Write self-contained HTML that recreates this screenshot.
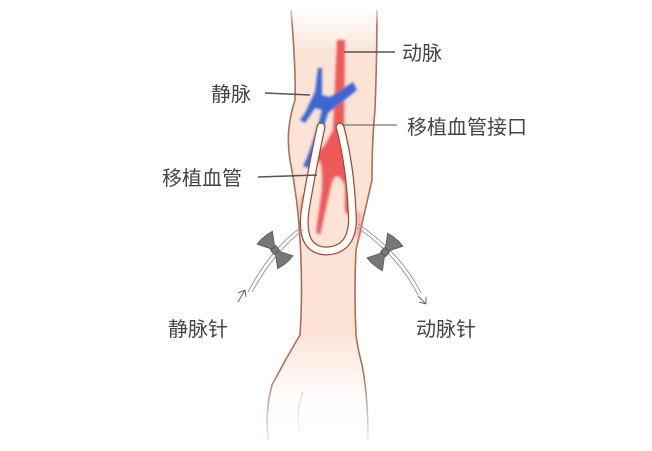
<!DOCTYPE html>
<html><head><meta charset="utf-8"><style>
html,body{margin:0;padding:0;background:#fff;}
svg{display:block;}
text{font-family:"Liberation Sans","Noto Sans CJK SC",sans-serif;font-size:20px;fill:#444;}
</style></head><body>
<svg width="652" height="451" viewBox="0 0 652 451" xmlns="http://www.w3.org/2000/svg">
<defs>
<linearGradient id="skin" x1="0" y1="0" x2="0" y2="1">
<stop offset="0" stop-color="#fdf0e8" stop-opacity="0.3"/>
<stop offset="0.1" stop-color="#fbe3d6"/>
<stop offset="0.75" stop-color="#fce3d5"/>
<stop offset="1" stop-color="#fff" stop-opacity="0"/>
</linearGradient>
<linearGradient id="fade" x1="0" y1="0" x2="0" y2="1">
<stop offset="0" stop-color="#fff" stop-opacity="1"/>
<stop offset="0.06" stop-color="#fff" stop-opacity="0"/>
<stop offset="0.82" stop-color="#fff" stop-opacity="0"/>
<stop offset="1" stop-color="#fff" stop-opacity="1"/>
</linearGradient>
<filter id="blur"><feGaussianBlur stdDeviation="1.2"/></filter>
</defs>
<!-- arm -->
<path d="M291,10 Q296,70 295,100 Q285,130 290,160 Q298,200 300,240 Q303,290 300,335 Q285,360 272,385 Q265,410 268,440 L368,440 Q368,400 362,370 Q357,350 356,335 Q354,290 356,250 Q364,215 372,180 Q372,140 375,110 Q377,60 377,10 Z" fill="url(#skin)"/>
<path d="M291,10 Q296,70 295,100 Q285,130 290,160 Q298,200 300,240 Q303,290 300,335 Q285,360 272,385 Q265,410 268,440" fill="none" stroke="#9a5a3a" stroke-width="1.6" stroke-opacity="0.85"/>
<path d="M377,10 Q377,60 375,110 Q372,140 372,180 Q364,215 356,250 Q354,290 356,335 Q358,350 362,365 Q368,395 368,440" fill="none" stroke="#9a5a3a" stroke-width="1.6" stroke-opacity="0.85"/>
<path d="M303,392 Q296,410 299,430" fill="none" stroke="#b07050" stroke-width="1" stroke-opacity="0.5"/>
<rect x="250" y="0" width="140" height="451" fill="url(#fade)"/>
<!-- artery -->
<g filter="url(#blur)">
<path d="M337,40 L345,40 L344,130 Q350,160 352,185 L350,215 L345,212 L345,185 Q335,165 330,190 L320,235 L316,232 L322,190 Q323,170 320,160 L312,170 L310,160 L325,145 L333,130 Z" fill="#ee5a58"/>
<path d="M304,195 Q300,205 302,215" stroke="#f08080" stroke-width="5" fill="none" opacity="0.5"/>
<path d="M358,212 Q361,225 358,238" stroke="#f08080" stroke-width="5" fill="none" opacity="0.5"/>
<!-- vein -->
<path d="M318,68 L315,92 L305,113 L300,120 L305,123 L315,108 L322,110 Q316,135 306,160 L303,166 L309,168 Q320,140 328,113 L357,90 L353,82 L330,97 L322,95 L322,68 Z" fill="#3d66d0"/>
</g>
<!-- graft loop -->
<path d="M321,127 Q312,170 306,205 Q298,250 326,251 Q356,250 352,210 Q350,165 340,127" fill="none" stroke="#a04a35" stroke-width="9" stroke-linecap="round"/>
<path d="M321,127 Q312,170 306,205 Q298,250 326,251 Q356,250 352,210 Q350,165 340,127" fill="none" stroke="#fff" stroke-width="6.5" stroke-linecap="round"/>
<!-- needles -->
<g stroke="#999" stroke-width="1" fill="none">
<path d="M300,228 Q270,250 248,292"/><path d="M303,230 Q274,252 252,292"/>
<path d="M355,226 Q398,255 418,295"/><path d="M358,224 Q401,253 421,293"/>
</g>
<path d="M238,302 L245,290 M245,290 L238,293 M245,290 L246,297" stroke="#666" stroke-width="1" fill="none"/>
<path d="M418,296 L426,304 M426,304 L419,302 M426,304 L426,297" stroke="#666" stroke-width="1" fill="none"/>
<g fill="#777" stroke="#555" stroke-width="0.8">
<g transform="translate(275,250) rotate(50)"><path d="M-3,-2 L-16,-10 L-17,-4 L-17,4 L-16,10 L-3,2 Z M3,-2 L16,-10 L17,-4 L17,4 L16,10 L3,2 Z"/><rect x="-3" y="-3.5" width="6" height="7"/></g>
<g transform="translate(385,252) rotate(-50)"><path d="M-3,-2 L-16,-10 L-17,-4 L-17,4 L-16,10 L-3,2 Z M3,-2 L16,-10 L17,-4 L17,4 L16,10 L3,2 Z"/><rect x="-3" y="-3.5" width="6" height="7"/></g>
</g>
<!-- leader lines -->
<g stroke="#555" stroke-width="1.5">
<line x1="344" y1="52" x2="395" y2="52"/>
<line x1="265" y1="93" x2="310" y2="95"/>
<line x1="342" y1="125" x2="397" y2="125" stroke-width="1"/>
<line x1="258" y1="177" x2="317" y2="175"/>
</g>
<text x="402" y="60">动脉</text>
<text x="211" y="101">静脉</text>
<text x="407" y="134">移植血管接口</text>
<text x="162" y="185">移植血管</text>
<text x="168" y="336">静脉针</text>
<text x="416" y="336">动脉针</text>
</svg>
</body></html>
